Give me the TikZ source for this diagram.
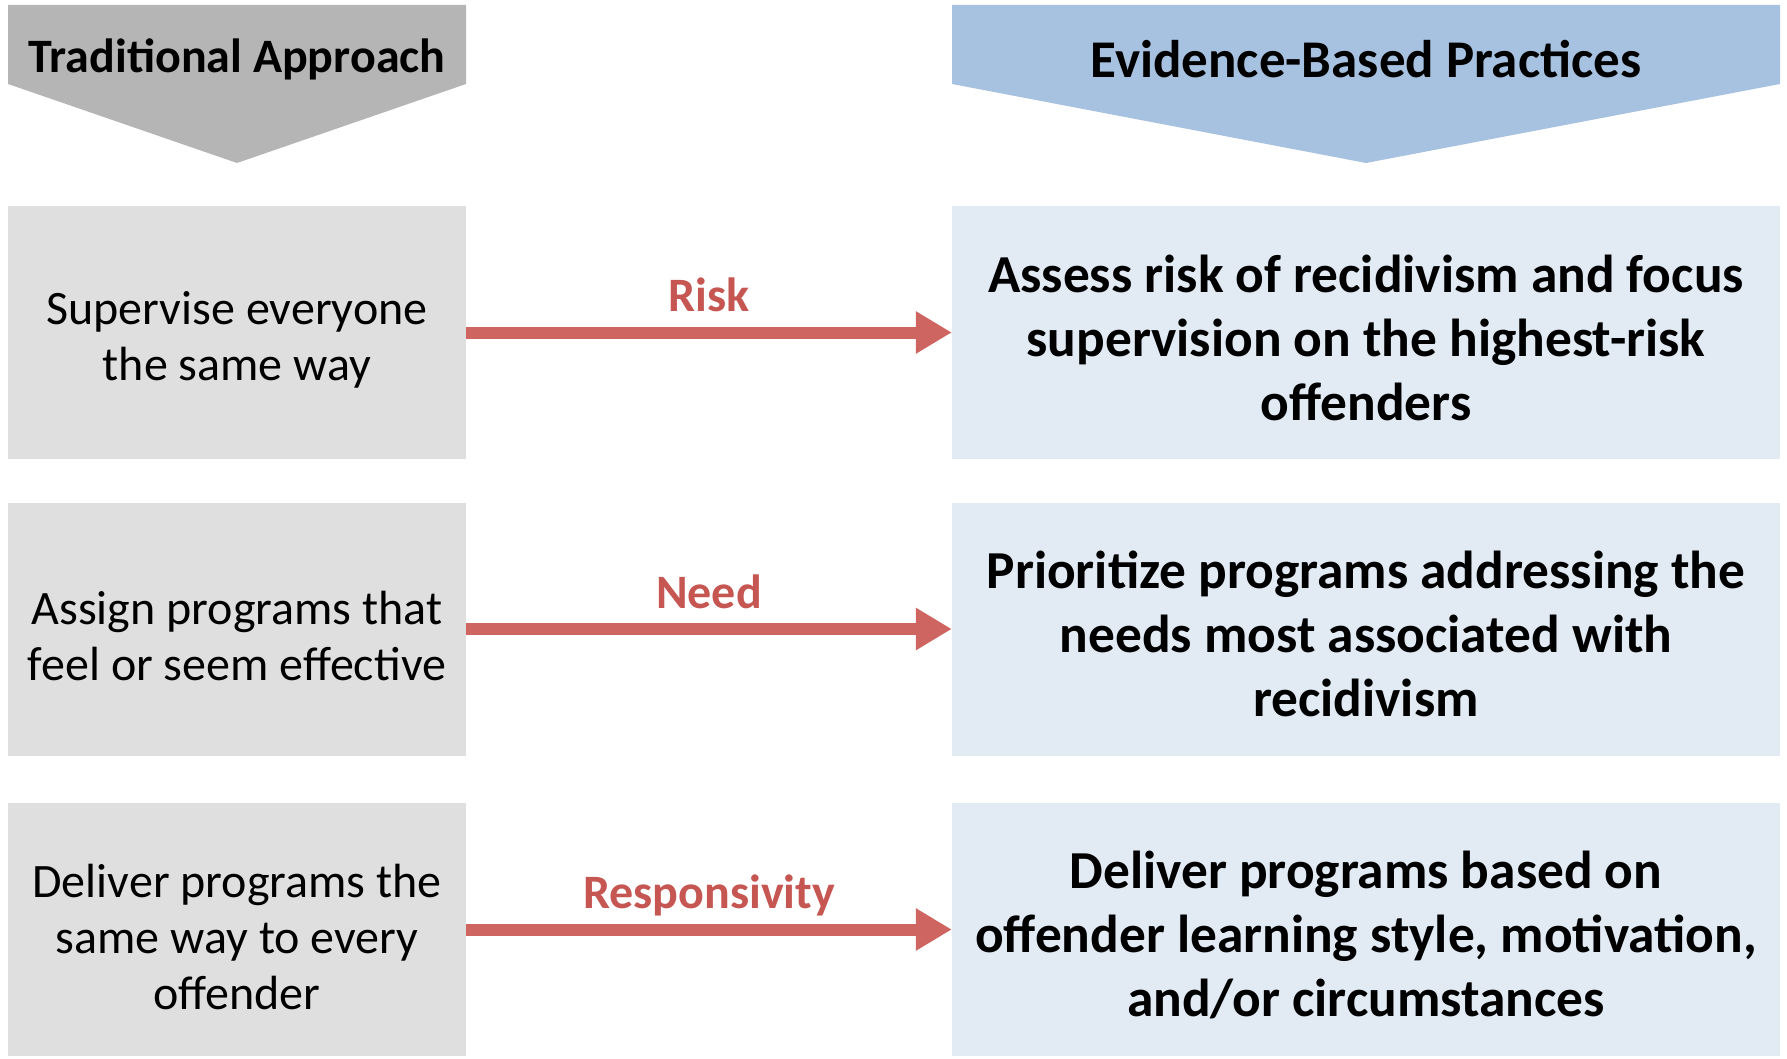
\documentclass[tikz,border=0pt]{standalone}
\usepackage{fontspec}
\setmainfont{Carlito}
\usetikzlibrary{arrows.meta}
\definecolor{hdgray}{HTML}{B5B5B5}
\definecolor{hdblue}{HTML}{A7C1E0}
\definecolor{boxgray}{HTML}{DFDFDF}
\definecolor{boxblue}{HTML}{E2EAF4}
\definecolor{arrred}{HTML}{CE6561}
\definecolor{lblred}{HTML}{C65651}
\tikzset{
  leftbox/.style={fill=boxgray, minimum width=458pt, minimum height=253pt, inner sep=0pt},
  rightbox/.style={fill=boxblue, minimum width=828pt, minimum height=253pt, inner sep=0pt},
  lefttext/.style={align=center, inner sep=0pt, font=\fontsize{48}{56}\selectfont},
  righttext/.style={align=center, inner sep=0pt, font=\fontsize{53.4}{64}\selectfont\bfseries},
  hdtext/.style={font=\fontsize{48}{56}\selectfont\bfseries, inner sep=0pt},
  conn/.style={draw=arrred, line width=12pt, -{Triangle[length=36pt,width=40pt]}},
  lbl/.style={text=lblred, font=\fontsize{48}{56}\selectfont\bfseries, inner sep=0pt, anchor=base, yshift=21pt}
}
\begin{document}
\begin{tikzpicture}[x=1pt,y=-1pt]
\useasboundingbox (0,0) rectangle (1787,1059);
% headers
\fill[hdgray] (8,5) -- (466,5) -- (466,84) -- (237,163) -- (8,84) -- cycle;
\fill[hdblue] (952,5) -- (1780,5) -- (1780,84) -- (1366,163) -- (952,84) -- cycle;
\node[hdtext] (h1) at (237,59) {Traditional Approach};
\node[hdtext, font=\fontsize{53}{60}\selectfont\bfseries] (h2) at (1366,59) {Evidence-Based Practices};
% boxes
\node[leftbox] (l1) at (237,332.5) {};
\node[leftbox] (l2) at (237,629) {};
\node[leftbox] (l3) at (237,929.5) {};
\node[rightbox] (r1) at (1366,332.5) {};
\node[rightbox] (r2) at (1366,629) {};
\node[rightbox] (r3) at (1366,929.5) {};
% texts
\node[lefttext, yshift=-7pt] (lt1) at (l1.center) {Supervise everyone\\the same way};
\node[lefttext, yshift=-7pt] (lt2) at (l2.center) {Assign programs that\\feel or seem effective};
\node[lefttext, yshift=-7pt] (lt3) at (l3.center) {Deliver programs the\\same way to every\\offender};
\node[righttext, yshift=-5pt] (rt1) at (r1.center) {Assess risk of recidivism and focus\\supervision on the highest-risk\\offenders};
\node[righttext, yshift=-5pt] (rt2) at (r2.center) {Prioritize programs addressing the\\needs most associated with\\recidivism};
\node[righttext, yshift=-5pt] (rt3) at (r3.center) {Deliver programs based on\\offender learning style, motivation,\\and/or circumstances};
% connectors
\draw[conn] (l1.east) -- (r1.west) node[midway, lbl] (t1) {Risk};
\draw[conn] (l2.east) -- (r2.west) node[midway, lbl] (t2) {Need};
\draw[conn] (l3.east) -- (r3.west) node[midway, lbl] (t3) {Responsivity};
\end{tikzpicture}
\end{document}
